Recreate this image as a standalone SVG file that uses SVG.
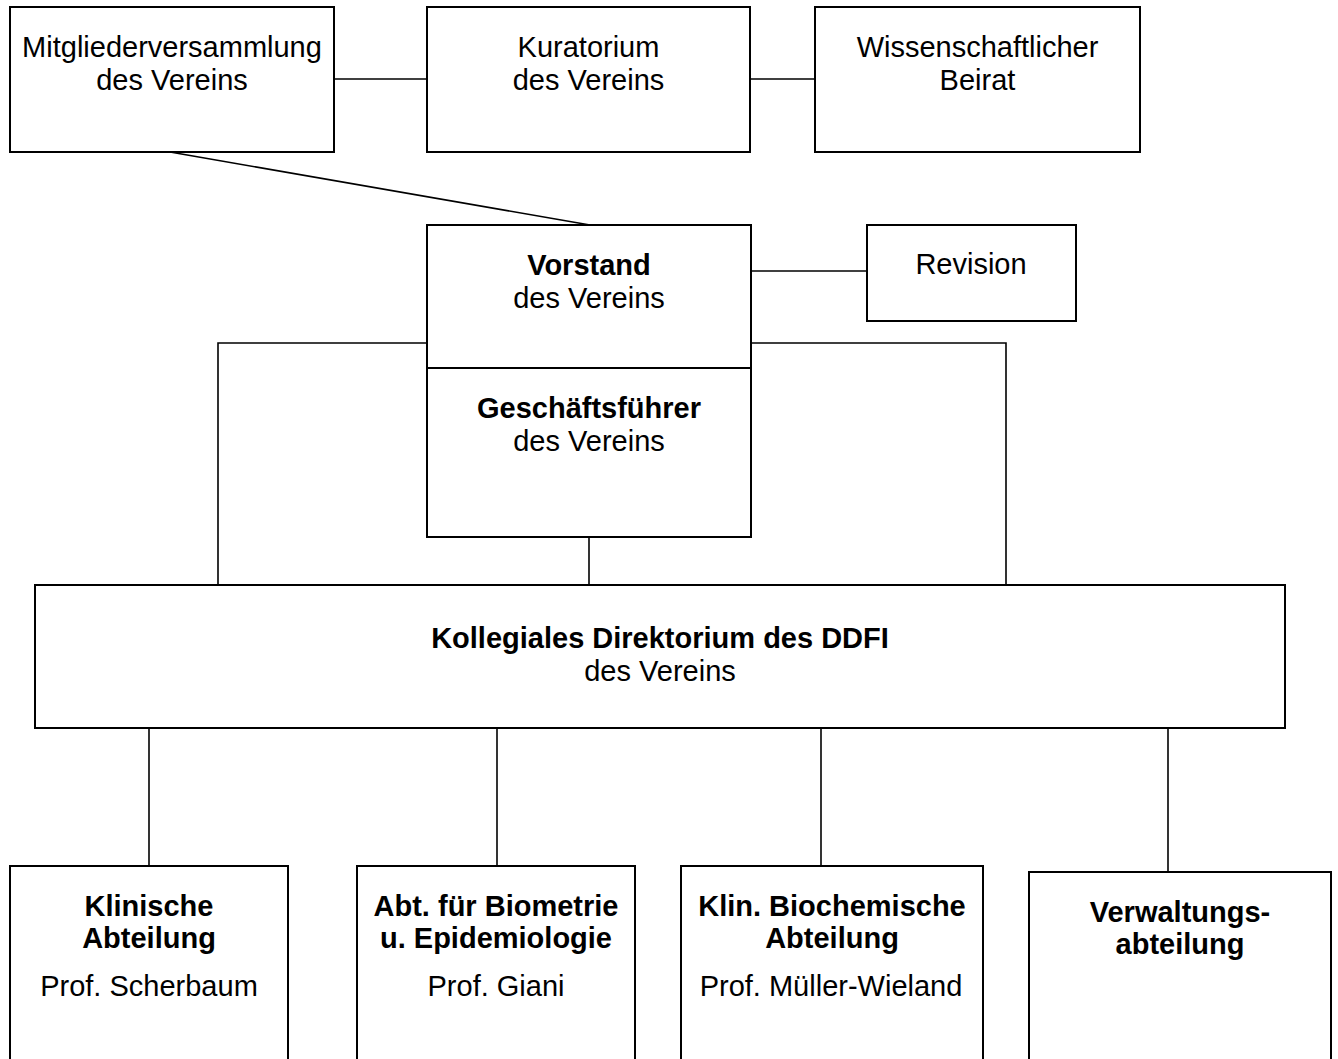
<svg xmlns="http://www.w3.org/2000/svg" width="1338" height="1059" viewBox="0 0 1338 1059">
<style>
.box{fill:#fff;stroke:#000;stroke-width:2}
.ln{fill:none;stroke:#000;stroke-width:1.6}
text{font-family:"Liberation Sans",Arial,sans-serif;font-size:29px;fill:#000;text-anchor:middle}
.b{font-weight:bold}
</style>
<rect width="1338" height="1059" fill="#fff"/>
<g id="connectors">
<line class="ln" x1="334" y1="79" x2="427" y2="79"/>
<line class="ln" x1="750" y1="79" x2="815" y2="79"/>
<line class="ln" x1="170" y1="152" x2="590" y2="225"/>
<line class="ln" x1="751" y1="271" x2="867" y2="271"/>
<polyline class="ln" points="427,343 218,343 218,585"/>
<polyline class="ln" points="751,343 1006,343 1006,585"/>
<line class="ln" x1="589" y1="537" x2="589" y2="585"/>
<line class="ln" x1="149" y1="728" x2="149" y2="866"/>
<line class="ln" x1="497" y1="728" x2="497" y2="866"/>
<line class="ln" x1="821" y1="728" x2="821" y2="866"/>
<line class="ln" x1="1168" y1="725" x2="1168" y2="872"/>
</g>
<g id="mitglieder">
<rect class="box" x="10" y="7" width="324" height="145"/>
<text x="172" y="57">Mitgliederversammlung</text>
<text x="172" y="90">des Vereins</text>
</g>
<g id="kuratorium">
<rect class="box" x="427" y="7" width="323" height="145"/>
<text x="588.5" y="57">Kuratorium</text>
<text x="588.5" y="90">des Vereins</text>
</g>
<g id="beirat">
<rect class="box" x="815" y="7" width="325" height="145"/>
<text x="977.5" y="57">Wissenschaftlicher</text>
<text x="977.5" y="90">Beirat</text>
</g>
<g id="vorstand">
<rect class="box" x="427" y="225" width="324" height="143"/>
<text class="b" x="589" y="275">Vorstand</text>
<text x="589" y="308">des Vereins</text>
</g>
<g id="revision">
<rect class="box" x="867" y="225" width="209" height="96"/>
<text x="971" y="274">Revision</text>
</g>
<g id="geschaeftsfuehrer">
<rect class="box" x="427" y="368" width="324" height="169"/>
<text class="b" x="589" y="418">Geschäftsführer</text>
<text x="589" y="451">des Vereins</text>
</g>
<g id="direktorium">
<rect class="box" x="35" y="585" width="1250" height="143"/>
<text class="b" x="660" y="648">Kollegiales Direktorium des DDFI</text>
<text x="660" y="681">des Vereins</text>
</g>
<g id="klinische">
<rect class="box" x="10" y="866" width="278" height="210"/>
<text class="b" x="149" y="916">Klinische</text>
<text class="b" x="149" y="948">Abteilung</text>
<text x="149" y="996">Prof. Scherbaum</text>
</g>
<g id="biometrie">
<rect class="box" x="357" y="866" width="278" height="210"/>
<text class="b" x="496" y="916">Abt. für Biometrie</text>
<text class="b" x="496" y="948">u. Epidemiologie</text>
<text x="496" y="996">Prof. Giani</text>
</g>
<g id="biochemie">
<rect class="box" x="681" y="866" width="302" height="210"/>
<text class="b" x="832" y="916">Klin. Biochemische</text>
<text class="b" x="832" y="948">Abteilung</text>
<text x="831" y="996">Prof. Müller-Wieland</text>
</g>
<g id="verwaltung">
<rect class="box" x="1029" y="872" width="302" height="210"/>
<text class="b" x="1180" y="922">Verwaltungs-</text>
<text class="b" x="1180" y="954">abteilung</text>
</g>
</svg>
